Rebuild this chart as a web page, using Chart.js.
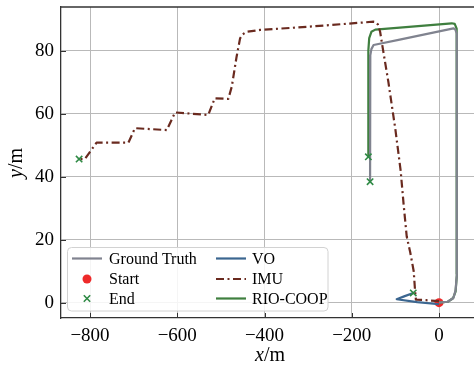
<!DOCTYPE html>
<html>
<head>
<meta charset="utf-8">
<script src="https://cdn.jsdelivr.net/npm/chart.js@4"></script>
<style>
  html, body { margin: 0; padding: 0; background: #fff; }
  #wrap { width: 474px; height: 368px; position: relative; }
</style>
</head>
<body>
<div id="wrap"><canvas id="trajChart"></canvas></div>
<script>
// trajectories (x in m, y in m)
const gtX = [0, 20, 33, 38, 41, 41, 40.5, 37, 33, -90, -150, -155, -157.5, -158, -158];
const gtY = [0, 0.3, 1.5, 4, 9, 83, 85.5, 86.8, 87.1, 83.5, 81.8, 80.5, 78.5, 75, 38.4];

const voX = [0, -50, -97, -80, -59];
const voY = [-0.5, 0.2, 1.1, 2.0, 3.1];

const imuX = [0, -30, -53, -55, -58, -66, -74, -81, -88, -100, -116, -128, -135, -140, -145, -150, -300, -410, -441, -450, -456, -464, -475, -483, -514, -529, -605, -624, -697, -712, -785, -812, -822];
const imuY = [0.5, 0.8, 1.0, 4, 10, 16, 21, 31, 42, 55, 70, 80, 86, 88.3, 89.1, 89.2, 87.6, 86.6, 86, 85.2, 83.9, 78.1, 68.6, 64.7, 64.9, 59.6, 60.4, 54.8, 55.4, 50.8, 50.8, 45.6, 45.6];

const rioX = [0, 20, 32, 38, 41, 41, 40, 36, 29, -146, -155, -160, -162, -162];
const rioY = [0, 0.3, 1.4, 3.5, 9, 84, 87, 88.5, 88.7, 86.7, 86, 84, 80, 46.3];

const startX = [0];
const startY = [0];
const endX = [-825, -162, -158, -59];
const endY = [45.6, 46.3, 38.4, 3.1];

const xTicks = [-800, -600, -400, -200, 0];
const yTicks = [0, 20, 40, 60, 80];

const FONT = "'Liberation Serif', 'DejaVu Serif', serif";

function pts(xs, ys) {
  return xs.map((x, i) => ({x: x, y: ys[i]}));
}

const lineDs = (label, xs, ys, color, dash) => ({
  label: label,
  data: pts(xs, ys),
  showLine: true,
  borderColor: color,
  backgroundColor: color,
  borderWidth: 2.2,
  borderDash: dash || [],
  pointRadius: 0,
  tension: 0,
  borderJoinStyle: 'round',
  borderCapStyle: 'butt',
  order: 5
});

const datasets = [
  lineDs('Ground Truth', gtX, gtY, '#80838f'),
  lineDs('VO', voX, voY, '#3b6690'),
  lineDs('IMU', imuX, imuY, '#6a2a1f', [8, 3.5, 2, 3.5]),
  lineDs('RIO-COOP', rioX, rioY, '#3f7f3f'),
  {
    label: 'Start', data: pts(startX, startY), pointStyle: 'circle', order: 10,
    pointRadius: 4.5, backgroundColor: '#ee2a2a', borderColor: '#ee2a2a', borderWidth: 0
  },
  {
    label: 'End', data: pts(endX, endY), pointStyle: 'crossRot', order: 0,
    pointRadius: 4.5, borderColor: '#2f8a45', backgroundColor: '#2f8a45', borderWidth: 1.6
  }
];

// frame, inward ticks, axis titles and a two-column legend
const decor = {
  id: 'decor',
  afterDatasetsDraw(chart) {
    const c = chart.ctx, a = chart.chartArea;
    const xs = chart.scales.x, ys = chart.scales.y;
    c.save();
    c.strokeStyle = '#333';
    c.lineWidth = 1.3;
    c.beginPath();
    c.moveTo(a.left, a.top); c.lineTo(a.right, a.top);
    c.stroke();
    c.lineWidth = 1;
    xTicks.forEach(v => {
      const p = Math.round(xs.getPixelForValue(v)) + 0.5;
      c.beginPath(); c.moveTo(p, a.bottom); c.lineTo(p, a.bottom - 5); c.stroke();
    });
    yTicks.forEach(v => {
      const p = Math.round(ys.getPixelForValue(v)) + 0.5;
      c.beginPath(); c.moveTo(a.left, p); c.lineTo(a.left + 5, p); c.stroke();
    });

    // legend
    const lx = 67.5, ly = 247.5, lw = 260.5, lh = 63.5;
    c.fillStyle = 'rgba(255,255,255,0.85)';
    c.strokeStyle = '#d2d2d2';
    c.lineWidth = 1;
    c.beginPath();
    c.roundRect(lx, ly, lw, lh, 4);
    c.fill(); c.stroke();

    const rows = [258.5, 279, 298.5];
    const byLabel = {};
    chart.data.datasets.forEach(d => byLabel[d.label] = d);
    const items = [
      ['Ground Truth', 72, 109, 0], ['Start', 72, 109, 1], ['End', 72, 109, 2],
      ['VO', 216, 252, 0], ['IMU', 216, 252, 1], ['RIO-COOP', 216, 252, 2]
    ];
    c.font = '16px ' + FONT;
    c.textBaseline = 'middle';
    c.textAlign = 'left';
    items.forEach(([name, sx, tx, r]) => {
      const d = byLabel[name];
      const y = rows[r];
      if (d.showLine) {
        c.strokeStyle = d.borderColor;
        c.lineWidth = d.borderWidth;
        c.setLineDash(d.borderDash);
        c.beginPath(); c.moveTo(sx, y); c.lineTo(sx + 30, y); c.stroke();
        c.setLineDash([]);
      } else if (d.pointStyle === 'circle') {
        c.fillStyle = d.backgroundColor;
        c.beginPath(); c.arc(sx + 15, y, d.pointRadius, 0, Math.PI * 2); c.fill();
      } else {
        c.strokeStyle = d.borderColor;
        c.lineWidth = d.borderWidth;
        const r2 = 3.2;
        c.beginPath();
        c.moveTo(sx + 15 - r2, y - r2); c.lineTo(sx + 15 + r2, y + r2);
        c.moveTo(sx + 15 - r2, y + r2); c.lineTo(sx + 15 + r2, y - r2);
        c.stroke();
      }
      c.fillStyle = '#000';
      c.fillText(name, tx, y + 1);
    });

    // axis titles: italic variable, upright unit
    c.fillStyle = '#000';
    c.textBaseline = 'alphabetic';
    const drawTitle = (v, unit, cx, cy) => {
      c.font = 'italic 20px ' + FONT;
      const w1 = c.measureText(v).width;
      c.font = '20px ' + FONT;
      const w2 = c.measureText(unit).width;
      const x0 = cx - (w1 + w2) / 2;
      c.font = 'italic 20px ' + FONT;
      c.fillText(v, x0, cy);
      c.font = '20px ' + FONT;
      c.fillText(unit, x0 + w1, cy);
    };
    drawTitle('x', '/m', 270, 361);
    c.save();
    c.translate(22, 163);
    c.rotate(-Math.PI / 2);
    drawTitle('y', '/m', 0, 0);
    c.restore();
    c.restore();
  }
};

const keepTicks = list => scale => {
  scale.ticks = list.map(v => ({value: v}));
};

const ctx = document.getElementById('trajChart').getContext('2d');
const trajChart = new Chart(ctx, {
  type: 'scatter',
  data: {datasets: datasets},
  options: {
    responsive: true,
    maintainAspectRatio: false,
    animation: false,
    layout: {autoPadding: false, padding: {top: 7, left: 0, right: 0, bottom: 0}},
    plugins: {legend: {display: false}, tooltip: {enabled: false}},
    scales: {
      x: {
        type: 'linear', min: -866.5, max: 80.2,
        afterBuildTicks: keepTicks(xTicks),
        afterFit: s => { s.height = 50; s.paddingLeft = 0; s.paddingRight = 0; },
        grid: {color: '#b9b9b9', lineWidth: 1, drawTicks: false},
        border: {color: '#333', width: 1.3},
        ticks: {
          padding: 7, color: '#000', font: {family: FONT, size: 19},
          maxRotation: 0, autoSkip: false,
          callback: v => String(v).replace('-', '\u2212')
        }
      },
      y: {
        type: 'linear', min: -4.86, max: 93.87,
        afterBuildTicks: keepTicks(yTicks),
        afterFit: s => { s.width = 61; s.paddingTop = 0; s.paddingBottom = 0; },
        grid: {color: '#b9b9b9', lineWidth: 1, drawTicks: false},
        border: {color: '#333', width: 1.3},
        ticks: {
          padding: 7, color: '#000', font: {family: FONT, size: 19},
          autoSkip: false
        }
      }
    }
  },
  plugins: [decor]
});
</script>
</body>
</html>
